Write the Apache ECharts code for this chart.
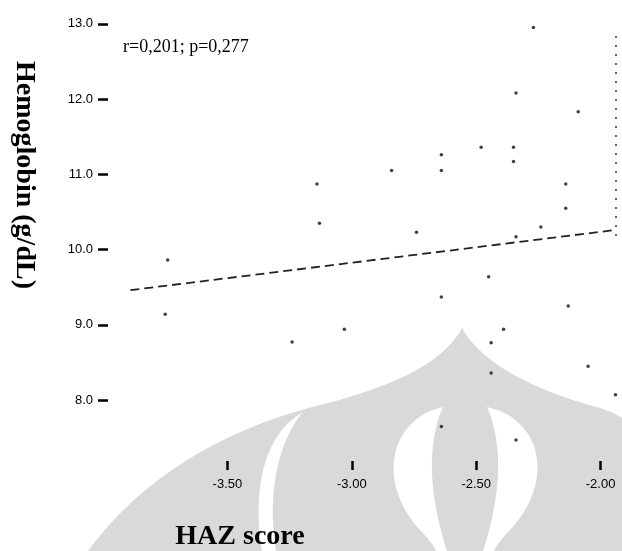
<!DOCTYPE html>
<html>
<head>
<meta charset="utf-8">
<script src="https://cdn.jsdelivr.net/npm/echarts@6/dist/echarts.min.js"></script>
<style>
  html, body { margin: 0; padding: 0; background: #fff; }
  #chart { width: 622px; height: 551px; }
</style>
</head>
<body>
<div id="chart"></div>
<script>
// HAZ score (x) and hemoglobin in g/dL (y), one entry per child
const hazScore = [
  -3.74, -3.75, -3.24, -3.14, -3.13, -3.03, -2.84, -2.74,
  -2.64, -2.64, -2.64, -2.64, -2.48, -2.35, -2.35, -2.34,
  -2.27, -2.09, -2.14, -2.14, -2.24, -2.34, -2.45, -2.13,
  -2.39, -2.44, -2.44, -2.05, -1.94, -2.34
];
const hemoglobin = [
  9.86, 9.14, 8.77, 10.87, 10.35, 8.94, 11.05, 10.23,
  11.26, 11.05, 9.37, 7.65, 11.36, 11.36, 11.17, 12.08,
  12.95, 11.83, 10.87, 10.55, 10.30, 10.17, 9.64, 9.25,
  8.94, 8.76, 8.36, 8.45, 8.07, 7.47
];

// Least-squares fit line, end points over the observed HAZ range
const fitHaz = [-3.89, -1.94];
const fitHb = [9.46, 10.26];

const xTicks = [-3.5, -3.0, -2.5, -2.0];
const yTicks = [8, 9, 10, 11, 12, 13];

const statText = 'r=0,201; p=0,277';
const xTitle = 'HAZ score';
const yTitle = 'Hemoglobin (g/dL)';

const points = hazScore.map((h, i) => [h, hemoglobin[i]]);
const fitLine = fitHaz.map((h, i) => [h, fitHb[i]]);

const grey = '#d9d9d9';

// Turn a start point plus a run of cubic / line segments into polygon vertices
function outline(start, segs) {
  const pts = [start];
  let p = start;
  segs.forEach(s => {
    if (s.length === 1) { pts.push(s[0]); p = s[0]; return; }
    const [c1, c2, e] = s;
    for (let i = 1; i <= 24; i++) {
      const t = i / 24, u = 1 - t;
      pts.push([
        u * u * u * p[0] + 3 * u * u * t * c1[0] + 3 * u * t * t * c2[0] + t * t * t * e[0],
        u * u * u * p[1] + 3 * u * u * t * c1[1] + 3 * u * t * t * c2[1] + t * t * t * e[1]
      ]);
    }
    p = e;
  });
  return pts;
}

function emblemPiece(points, fill, z) {
  return { type: 'polygon', z: z, silent: true, shape: { points: points }, style: { fill: fill } };
}

// Faint emblem printed behind the plot
const emblem = [
  emblemPiece(outline([88, 551], [
    [[140, 480], [220, 430], [320, 405]],
    [[400, 385], [445, 360], [462, 328]],
    [[480, 360], [525, 388], [600, 408]],
    [[640, 420], [680, 460], [700, 551]]
  ]), grey, -10),
  emblemPiece(outline([302, 413], [
    [[270, 430], [250, 480], [262, 551]],
    [[276, 551]],
    [[266, 490], [280, 440], [302, 413]]
  ]), '#fff', -9),
  emblemPiece(outline([443, 407], [
    [[392, 418], [375, 478], [418, 528]],
    [[428, 538], [434, 546], [436, 551]],
    [[447, 551]],
    [[432, 505], [424, 450], [443, 407]]
  ]), '#fff', -9),
  emblemPiece(outline([487, 407], [
    [[540, 418], [556, 478], [512, 528]],
    [[502, 538], [496, 546], [494, 551]],
    [[483, 551]],
    [[498, 505], [506, 450], [487, 407]]
  ]), '#fff', -9)
];

// Remains of the right-hand plot frame, printed faint and broken
const frameEdge = {
  type: 'line', z: 3, silent: true,
  shape: { x1: 616, y1: 36, x2: 616, y2: 236 },
  style: { stroke: '#333', lineWidth: 1.5, lineDash: [2, 7] }
};

const chart = echarts.init(document.getElementById('chart'), null, { renderer: 'canvas' });

chart.setOption({
  backgroundColor: '#fff',
  animation: false,
  grid: { left: 108, right: 4, top: 14, bottom: 90, containLabel: false },
  xAxis: {
    type: 'value',
    min: -3.98,
    max: -1.93,
    axisLine: { show: false },
    splitLine: { show: false },
    axisTick: {
      show: true, customValues: xTicks, length: 9,
      lineStyle: { color: '#000', width: 2.5 }
    },
    axisLabel: {
      customValues: xTicks, margin: 17,
      formatter: v => v.toFixed(2),
      fontFamily: 'Liberation Sans, Arial, sans-serif', fontSize: 13, color: '#000'
    }
  },
  yAxis: {
    type: 'value',
    min: 7.19,
    max: 13.13,
    axisLine: { show: false },
    splitLine: { show: false },
    axisTick: {
      show: true, customValues: yTicks, length: 10,
      lineStyle: { color: '#000', width: 2.5 }
    },
    axisLabel: {
      customValues: yTicks, margin: 15,
      formatter: v => v.toFixed(1),
      fontFamily: 'Liberation Sans, Arial, sans-serif', fontSize: 13, color: '#000'
    }
  },
  graphic: emblem.concat([
    frameEdge,
    {
      type: 'text', z: 20, left: 123, top: 38,
      style: { text: statText, font: '18px "Liberation Serif", "Times New Roman", serif', fill: '#000' }
    },
    {
      type: 'text', z: 20, x: 240, y: 537,
      style: { text: xTitle, font: 'bold 28px "Liberation Serif", "Times New Roman", serif', fill: '#000', align: 'center', verticalAlign: 'middle' }
    },
    {
      type: 'text', z: 20, x: 24, y: 175, rotation: -Math.PI / 2,
      style: { text: yTitle, font: 'bold 28px "Liberation Serif", "Times New Roman", serif', fill: '#000', align: 'center', verticalAlign: 'middle' }
    }
  ]),
  series: [
    {
      type: 'scatter',
      data: points,
      symbol: 'circle',
      symbolSize: 3.5,
      itemStyle: { color: '#111' },
      z: 5
    },
    {
      type: 'line',
      data: fitLine,
      symbol: 'none',
      lineStyle: { color: '#222', width: 1.8, type: [9, 5] },
      z: 4
    }
  ]
});
</script>
</body>
</html>
